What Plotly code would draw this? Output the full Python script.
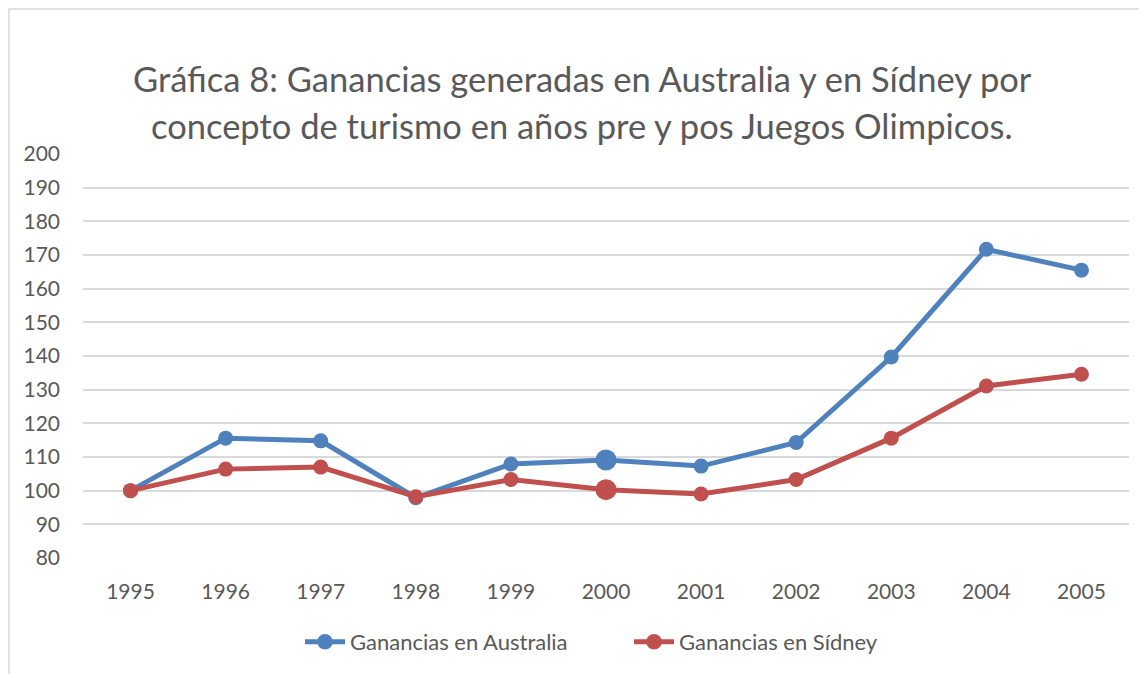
import plotly.graph_objects as go

years = ["1995", "1996", "1997", "1998", "1999", "2000", "2001", "2002", "2003", "2004", "2005"]
australia = [100, 115.6, 114.8, 97.9, 107.9, 109.1, 107.3, 114.3, 139.7, 171.7, 165.5]
sidney = [100, 106.4, 107.0, 98.2, 103.3, 100.3, 99.0, 103.3, 115.6, 131.1, 134.6]
y_ticks = [80, 90, 100, 110, 120, 130, 140, 150, 160, 170, 180, 190, 200]
title_lines = ["Gráfica 8: Ganancias generadas en Australia y en Sídney por",
               "concepto de turismo en años pre y pos Juegos Olimpicos."]

W, H = 1147, 674
OFF = 8  # page body offset
ml, mr, mt, mb = 83 - OFF, W - (1129 - OFF), 154 - OFF, H - (558 - OFF)
pw, ph = W - ml - mr, H - mt - mb

sizes = [15, 15, 15, 15, 15, 21, 15, 15, 15, 15, 15]
FONT = "Lato, Open Sans, sans-serif"
GREY = "#595959"


def px_x(p):
    return (p - OFF - ml) / pw


def px_y(p):
    return (H - mb - (p - OFF)) / ph


fig = go.Figure()
fig.add_trace(go.Scatter(x=years, y=australia, mode="lines+markers", name="Ganancias en Australia",
                         line=dict(color="#4F81BD", width=5), legend="legend",
                         marker=dict(color="#4F81BD", size=sizes, opacity=1, line=dict(width=0))))
fig.add_trace(go.Scatter(x=years, y=sidney, mode="lines+markers", name="Ganancias en Sídney",
                         line=dict(color="#C0504D", width=5), legend="legend2",
                         marker=dict(color="#C0504D", size=sizes, opacity=1, line=dict(width=0))))

annotations = []
for txt, yc in zip(title_lines, [78, 126]):
    annotations.append(dict(text=txt, xref="paper", yref="paper", x=px_x(582), y=px_y(yc),
                            xanchor="center", yanchor="middle", showarrow=False,
                            font=dict(size=34.5, color=GREY, family=FONT)))

leg_common = dict(orientation="h", xanchor="left", yanchor="middle", y=px_y(642),
                  font=dict(size=22, color=GREY), itemwidth=40, bgcolor="rgba(0,0,0,0)")

fig.update_layout(
    width=W, height=H,
    margin=dict(l=ml, r=mr, t=mt, b=mb),
    paper_bgcolor="white", plot_bgcolor="white",
    font=dict(family=FONT, color=GREY),
    annotations=annotations,
    xaxis=dict(type="category", range=[-0.5, 10.5], showgrid=False, showline=False,
               ticks="", tickfont=dict(size=21, color=GREY), ticklabelstandoff=19),
    yaxis=dict(range=[80, 200], tickvals=y_ticks, showgrid=True, gridcolor="#D9D9D9", gridwidth=1.5,
               zeroline=False, showline=False, ticks="", tickfont=dict(size=21, color=GREY),
               ticklabelstandoff=22),
    legend=dict(x=px_x(300), **leg_common),
    legend2=dict(x=px_x(629), **leg_common),
    showlegend=True,
    shapes=[dict(type="rect", xref="paper", yref="paper",
                 x0=px_x(OFF + 1), x1=px_x(W + 30), y0=px_y(H + 30), y1=px_y(OFF + 1),
                 line=dict(color="#D9D9D9", width=1.5), fillcolor="rgba(0,0,0,0)", layer="below")],
)

fig.write_html("out.html")
